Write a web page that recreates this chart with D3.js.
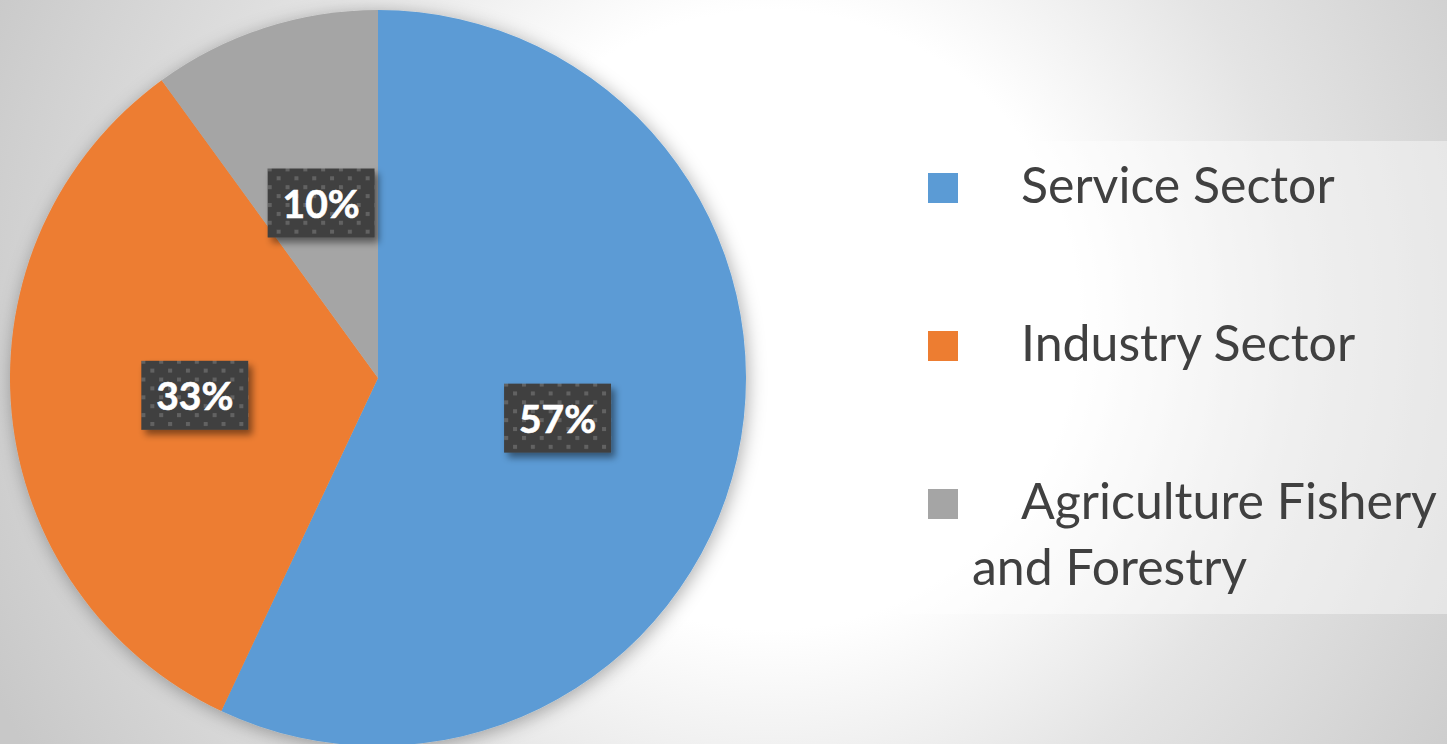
<!DOCTYPE html>
<html>
<head>
<meta charset="utf-8">
<script src="https://cdn.jsdelivr.net/npm/d3@7"></script>
<style>
html,body{margin:0;padding:0;overflow:hidden;background:#fff;}
svg{display:block;}
</style>
</head>
<body>
<svg id="chart" width="1447" height="744"></svg>
<script>
const categories = ["Service Sector", "Industry Sector", "Agriculture Fishery and Forestry"];
const values = [57, 33, 10];
const colors = ["#5B9BD5", "#ED7D31", "#A5A5A5"];
const labels = ["57%", "33%", "10%"];

const W = 1447, H = 744;
const svg = d3.select("#chart");
const defs = svg.append("defs");

const bg = defs.append("radialGradient").attr("id", "bg")
  .attr("gradientUnits", "userSpaceOnUse")
  .attr("cx", 770).attr("cy", 320).attr("r", 860);
bg.append("stop").attr("offset", 0).attr("stop-color", "#ffffff");
bg.append("stop").attr("offset", 0.36).attr("stop-color", "#ffffff");
bg.append("stop").attr("offset", 0.62).attr("stop-color", "#e4e4e4");
bg.append("stop").attr("offset", 1).attr("stop-color", "#c8c8c8");

const pieShadow = defs.append("filter").attr("id", "pieShadow")
  .attr("x", "-20%").attr("y", "-20%").attr("width", "140%").attr("height", "140%");
pieShadow.append("feDropShadow").attr("dx", 2).attr("dy", 3).attr("stdDeviation", 9)
  .attr("flood-color", "#000").attr("flood-opacity", 0.32);

const boxShadow = defs.append("filter").attr("id", "boxShadow")
  .attr("x", "-30%").attr("y", "-30%").attr("width", "160%").attr("height", "160%");
boxShadow.append("feDropShadow").attr("dx", 4).attr("dy", 5).attr("stdDeviation", 3.5)
  .attr("flood-color", "#000").attr("flood-opacity", 0.45);

const pat = defs.append("pattern").attr("id", "dots")
  .attr("patternUnits", "userSpaceOnUse").attr("width", 17.8).attr("height", 17.8);
pat.append("rect").attr("width", 17.8).attr("height", 17.8).attr("fill", "#404040");
pat.append("rect").attr("x", 0).attr("y", 0).attr("width", 4).attr("height", 4).attr("fill", "#626262");
pat.append("rect").attr("x", 8.9).attr("y", 8.9).attr("width", 4).attr("height", 4).attr("fill", "#626262");

svg.append("rect").attr("width", W).attr("height", H).attr("fill", "url(#bg)");

// Pie
const cx = 378, cy = 378, R = 368;
const pie = d3.pie().sort(null).value(d => d);
const arcs = pie(values);
const arc = d3.arc().innerRadius(0).outerRadius(R);

const g = svg.append("g").attr("transform", `translate(${cx},${cy})`);
g.append("g").attr("filter", "url(#pieShadow)")
  .selectAll("path").data(arcs).join("path")
  .attr("d", arc)
  .attr("fill", (d, i) => colors[i]);

// Data labels
const boxW = 107, boxH = 69;
const lab = g.selectAll("g.lab").data(arcs).join("g").attr("class", "lab")
  .attr("transform", d => { const c = arc.centroid(d); return `translate(${c[0]},${c[1]})`; });
lab.append("rect")
  .attr("x", -boxW / 2).attr("y", -boxH / 2).attr("width", boxW).attr("height", boxH)
  .attr("fill", "url(#dots)").attr("filter", "url(#boxShadow)");
lab.append("text")
  .attr("text-anchor", "middle").attr("y", 15)
  .attr("font-family", "Lato, 'Open Sans', sans-serif").attr("font-weight", 700)
  .attr("font-size", 39).attr("fill", "#ffffff")
  .attr("stroke", "#ffffff").attr("stroke-width", 0.6)
  .text((d, i) => labels[i]);

// Legend
const legX = 902, legY = 141, legW = W - 902, legH = 614 - 141;
svg.append("rect").attr("x", legX).attr("y", legY).attr("width", legW + 10).attr("height", legH)
  .attr("fill", "#ffffff").attr("fill-opacity", 0.42);

const rowY = d3.scaleLinear().domain([0, 1]).range([203, 361]);
const fontSize = 50;
const lg = svg.append("g");
categories.forEach((name, i) => {
  const by = rowY(i);
  lg.append("rect").attr("x", 928).attr("y", by - 30).attr("width", 30).attr("height", 30)
    .attr("fill", colors[i]);
  const words = name.split(" ");
  let lines = [], cur = "";
  const t = lg.append("text").attr("font-family", "Lato, 'Open Sans', sans-serif")
    .attr("font-size", fontSize).attr("fill", "#404040");
  const maxFirst = W - 1021 - 4;
  words.forEach(w => {
    const test = cur ? cur + " " + w : w;
    t.text(test);
    const lim = lines.length === 0 ? maxFirst : W - 972 - 4;
    if (t.node().getComputedTextLength() > lim && cur) {
      lines.push(cur); cur = w;
    } else cur = test;
  });
  lines.push(cur);
  t.text(null);
  lines.forEach((ln, k) => {
    t.append("tspan").attr("x", k === 0 ? 1021 : 972).attr("y", by + k * 66).text(ln);
  });
});
</script>
</body>
</html>
